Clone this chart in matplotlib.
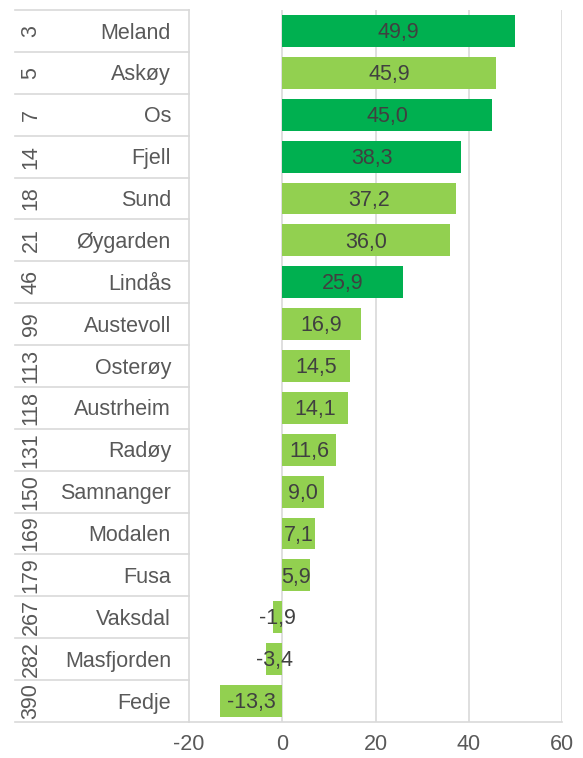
import matplotlib.pyplot as plt
import numpy as np

plt.rcParams['font.family'] = ['Liberation Sans', 'DejaVu Sans']

# data
names = ['Meland', 'Askøy', 'Os', 'Fjell', 'Sund', 'Øygarden', 'Lindås',
         'Austevoll', 'Osterøy', 'Austrheim', 'Radøy', 'Samnanger',
         'Modalen', 'Fusa', 'Vaksdal', 'Masfjorden', 'Fedje']
ranks = ['3', '5', '7', '14', '18', '21', '46', '99', '113', '118', '131',
         '150', '169', '179', '267', '282', '390']
values = [49.9, 45.9, 45.0, 38.3, 37.2, 36.0, 25.9, 16.9, 14.5, 14.1, 11.6,
          9.0, 7.1, 5.9, -1.9, -3.4, -13.3]
dark = ['Meland', 'Os', 'Fjell', 'Lindås']
xticks = [-20, 0, 20, 40, 60]

dark_green = '#00B050'
light_green = '#92D050'
grid_col = '#D9D9D9'
txt_col = '#595959'
fs = 15.5

fig = plt.figure(figsize=(5.83, 7.58), dpi=100)
ax = fig.add_axes([189/583, 36/758, 373/583, 712/758])

y = np.arange(len(names))
colors = [dark_green if n in dark else light_green for n in names]
ax.barh(y, values, height=0.76, color=colors, zorder=2)

for yi, v in zip(y, values):
    ax.text(v / 2, yi + 0.04, f"{v:.1f}".replace('.', ','), ha='center',
            va='center', fontsize=fs, color='#404040', zorder=3)

ax.set_xlim(-20, 60)
ax.set_ylim(len(names) - 0.5, -0.5)
ax.set_xticks(xticks)
ax.set_xticklabels([str(t) for t in xticks], fontsize=fs, color=txt_col)
ax.tick_params(axis='x', length=0, pad=9)
ax.set_yticks([])
for xv in xticks[1:]:
    ax.axvline(xv, color=grid_col, lw=1.2, zorder=1)

for s in ['top', 'right']:
    ax.spines[s].set_visible(False)
ax.spines['bottom'].set_color(grid_col)
ax.spines['bottom'].set_linewidth(1.2)
ax.spines['left'].set_color(grid_col)
ax.spines['left'].set_linewidth(1.2)

# category table on the left
tr = ax.get_yaxis_transform()
x_left = (15 - 189) / 373
for i in range(len(names) + 1):
    ax.plot([x_left, 0], [i - 0.5, i - 0.5], transform=tr, color=grid_col,
            lw=1.2, clip_on=False)
for yi, n, r in zip(y, names, ranks):
    ax.text((171 - 189) / 373, yi + 0.05, n, transform=tr, ha='right',
            va='center', fontsize=fs, color=txt_col)
    ax.text((31 - 189) / 373, yi, r, transform=tr, ha='center', va='center',
            fontsize=fs, color=txt_col, rotation=90)

fig.savefig('out.png', dpi=100)
